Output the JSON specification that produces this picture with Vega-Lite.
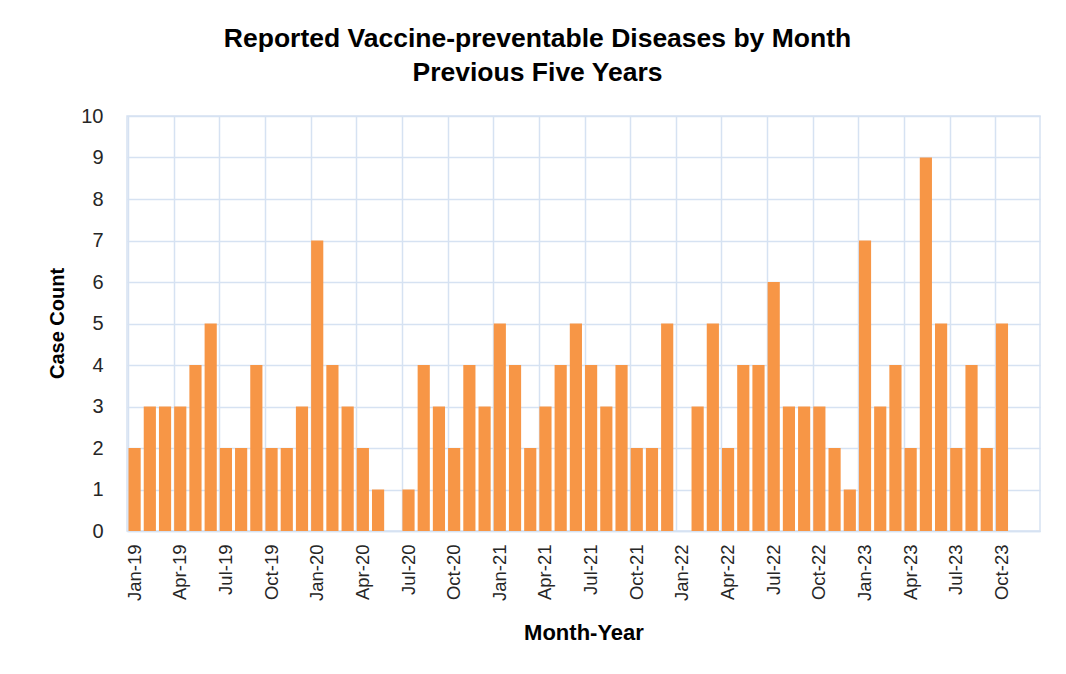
{
  "$schema": "https://vega.github.io/schema/vega-lite/v6.json",
  "width": 913,
  "height": 415,
  "autosize": "none",
  "padding": {"left": 127, "top": 116, "right": 26, "bottom": 143},
  "background": "white",
  "title": {
    "text": ["Reported Vaccine-preventable Diseases by Month", "Previous Five Years"],
    "font": "Liberation Sans",
    "fontSize": 26.5,
    "fontWeight": "bold",
    "color": "#000000",
    "lineHeight": 34,
    "anchor": "middle",
    "frame": "group",
    "dx": -46,
    "offset": 20
  },
  "config": {
    "view": {"stroke": "#D6E2F2", "strokeWidth": 1.5},
    "font": "Liberation Sans"
  },
  "data": {
    "values": [
      {"month": "Jan-19", "count": 2}, {"month": "Feb-19", "count": 3}, {"month": "Mar-19", "count": 3},
      {"month": "Apr-19", "count": 3}, {"month": "May-19", "count": 4}, {"month": "Jun-19", "count": 5},
      {"month": "Jul-19", "count": 2}, {"month": "Aug-19", "count": 2}, {"month": "Sep-19", "count": 4},
      {"month": "Oct-19", "count": 2}, {"month": "Nov-19", "count": 2}, {"month": "Dec-19", "count": 3},
      {"month": "Jan-20", "count": 7}, {"month": "Feb-20", "count": 4}, {"month": "Mar-20", "count": 3},
      {"month": "Apr-20", "count": 2}, {"month": "May-20", "count": 1}, {"month": "Jun-20", "count": 0},
      {"month": "Jul-20", "count": 1}, {"month": "Aug-20", "count": 4}, {"month": "Sep-20", "count": 3},
      {"month": "Oct-20", "count": 2}, {"month": "Nov-20", "count": 4}, {"month": "Dec-20", "count": 3},
      {"month": "Jan-21", "count": 5}, {"month": "Feb-21", "count": 4}, {"month": "Mar-21", "count": 2},
      {"month": "Apr-21", "count": 3}, {"month": "May-21", "count": 4}, {"month": "Jun-21", "count": 5},
      {"month": "Jul-21", "count": 4}, {"month": "Aug-21", "count": 3}, {"month": "Sep-21", "count": 4},
      {"month": "Oct-21", "count": 2}, {"month": "Nov-21", "count": 2}, {"month": "Dec-21", "count": 5},
      {"month": "Jan-22", "count": 0}, {"month": "Feb-22", "count": 3}, {"month": "Mar-22", "count": 5},
      {"month": "Apr-22", "count": 2}, {"month": "May-22", "count": 4}, {"month": "Jun-22", "count": 4},
      {"month": "Jul-22", "count": 6}, {"month": "Aug-22", "count": 3}, {"month": "Sep-22", "count": 3},
      {"month": "Oct-22", "count": 3}, {"month": "Nov-22", "count": 2}, {"month": "Dec-22", "count": 1},
      {"month": "Jan-23", "count": 7}, {"month": "Feb-23", "count": 3}, {"month": "Mar-23", "count": 4},
      {"month": "Apr-23", "count": 2}, {"month": "May-23", "count": 9}, {"month": "Jun-23", "count": 5},
      {"month": "Jul-23", "count": 2}, {"month": "Aug-23", "count": 4}, {"month": "Sep-23", "count": 2},
      {"month": "Oct-23", "count": 5}, {"month": "Nov-23", "count": null}, {"month": "Dec-23", "count": null}
    ]
  },
  "mark": {"type": "bar", "color": "#F79646"},
  "encoding": {
    "x": {
      "field": "month",
      "type": "ordinal",
      "sort": null,
      "scale": {
        "domain": ["Jan-19","Feb-19","Mar-19","Apr-19","May-19","Jun-19","Jul-19","Aug-19","Sep-19","Oct-19","Nov-19","Dec-19",
                   "Jan-20","Feb-20","Mar-20","Apr-20","May-20","Jun-20","Jul-20","Aug-20","Sep-20","Oct-20","Nov-20","Dec-20",
                   "Jan-21","Feb-21","Mar-21","Apr-21","May-21","Jun-21","Jul-21","Aug-21","Sep-21","Oct-21","Nov-21","Dec-21",
                   "Jan-22","Feb-22","Mar-22","Apr-22","May-22","Jun-22","Jul-22","Aug-22","Sep-22","Oct-22","Nov-22","Dec-22",
                   "Jan-23","Feb-23","Mar-23","Apr-23","May-23","Jun-23","Jul-23","Aug-23","Sep-23","Oct-23","Nov-23","Dec-23"],
        "paddingInner": 0.2,
        "paddingOuter": 0.1
      },
      "axis": {
        "title": "Month-Year",
        "values": ["Jan-19","Apr-19","Jul-19","Oct-19","Jan-20","Apr-20","Jul-20","Oct-20","Jan-21","Apr-21","Jul-21","Oct-21","Jan-22","Apr-22","Jul-22","Oct-22","Jan-23","Apr-23","Jul-23","Oct-23"],
        "bandPosition": 0,
        "grid": true,
        "gridColor": "#D6E2F2",
        "gridWidth": 1.5,
        "ticks": false,
        "domainColor": "#D6E2F2",
        "domainWidth": 1.5,
        "labelAngle": -90,
        "labelFontSize": 18.5,
        "labelColor": "#262626",
        "labelPadding": 13,
        "titleFontSize": 22,
        "titleFontWeight": "bold",
        "titleColor": "#000000",
        "titleY": 101,
        "titleBaseline": "middle"
      }
    },
    "y": {
      "field": "count",
      "type": "quantitative",
      "scale": {"domain": [0, 10], "nice": false},
      "axis": {
        "title": "Case Count",
        "values": [0,1,2,3,4,5,6,7,8,9,10],
        "grid": true,
        "gridColor": "#D6E2F2",
        "gridWidth": 1.5,
        "ticks": false,
        "domain": false,
        "labelFontSize": 20,
        "labelColor": "#262626",
        "labelPadding": 24,
        "titleFontSize": 20,
        "titleFontWeight": "bold",
        "titleColor": "#000000",
        "titleX": -70,
        "titleY": 207,
        "titleBaseline": "middle",
        "titleAlign": "center"
      }
    }
  }
}
